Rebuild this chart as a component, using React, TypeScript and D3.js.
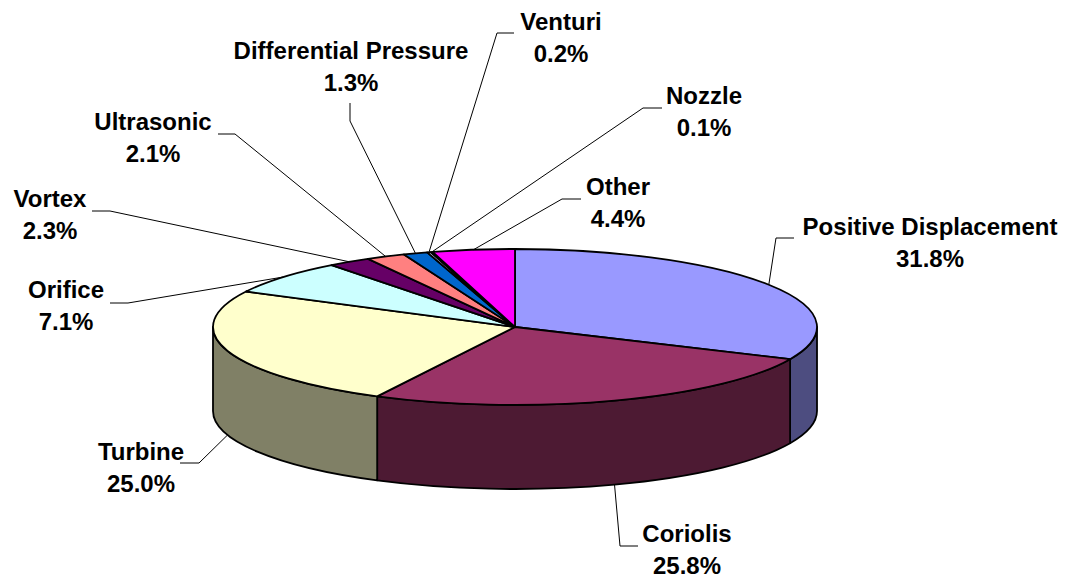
import { useEffect, useRef } from "react";
import * as d3 from "d3";

const categories = [
  "Positive Displacement",
  "Coriolis",
  "Turbine",
  "Orifice",
  "Vortex",
  "Ultrasonic",
  "Differential Pressure",
  "Venturi",
  "Nozzle",
  "Other",
];
const shares = [31.8, 25.8, 25.0, 7.1, 2.3, 2.1, 1.3, 0.2, 0.1, 4.4];
const topColors = ["#9999FF", "#993366", "#FFFFCC", "#CCFFFF", "#660066", "#FF8080", "#0066CC", "#CCCCFF", "#000080", "#FF00FF"];

// label layout: text centre x, first baseline y, then the elbow of the leader (label end, bend)
const labelLayout: { x: number; y: number; a: [number, number]; b: [number, number]; bottom?: boolean }[] = [
  { x: 930, y: 235, a: [794, 238], b: [776, 238] },
  { x: 687, y: 542, a: [638, 546], b: [620, 546], bottom: true },
  { x: 141, y: 460, a: [180, 463], b: [199, 463], bottom: true },
  { x: 66, y: 298, a: [110, 303], b: [128, 303] },
  { x: 50, y: 207, a: [92, 211], b: [110, 211] },
  { x: 153, y: 130, a: [218, 134], b: [235, 134] },
  { x: 351, y: 59, a: [350, 103], b: [350, 121] },
  { x: 561, y: 30, a: [514, 33], b: [497, 33] },
  { x: 704, y: 104, a: [662, 108], b: [643, 108] },
  { x: 618, y: 195, a: [581, 199], b: [562, 199] },
];

const darken = (c: string) => {
  const col = d3.rgb(c);
  return d3.rgb(col.r * 0.5, col.g * 0.5, col.b * 0.5).formatHex();
};

const App = () => {
  const svgRef = useRef<SVGSVGElement>(null);

  useEffect(() => {
    if (!svgRef.current) return;
    const svg = d3.select(svgRef.current);
    svg.selectAll("*").remove();

    const width = 1068;
    const height = 578;
    const cx = 515;
    const cy = 327;
    const rx = 302;
    const ry = 78;
    const depth = 84;

    svg.attr("width", width).attr("height", height);

    const data = categories.map((c, i) => ({ name: c, value: shares[i], color: topColors[i], i }));
    const arcs = d3.pie<typeof data[0]>().value((d) => d.value).sort(null)(data);

    const pt = (a: number, dy = 0): [number, number] => [cx + rx * Math.sin(a), cy - ry * Math.cos(a) + dy];

    // side walls (front half only)
    const sides = svg.append("g");
    arcs.forEach((d) => {
      const s = Math.max(d.startAngle, Math.PI / 2);
      const e = Math.min(d.endAngle, (3 * Math.PI) / 2);
      if (e <= s) return;
      const p0 = pt(s);
      const p1 = pt(e);
      const q1 = pt(e, depth);
      const q0 = pt(s, depth);
      const path =
        `M${p0[0]},${p0[1]} A${rx},${ry} 0 0 1 ${p1[0]},${p1[1]} ` +
        `L${q1[0]},${q1[1]} A${rx},${ry} 0 0 0 ${q0[0]},${q0[1]} Z`;
      sides
        .append("path")
        .attr("d", path)
        .attr("fill", darken(d.data.color))
        .attr("stroke", "#000")
        .attr("stroke-width", 1.8)
        .attr("stroke-linejoin", "round");
    });

    // top faces
    const tops = svg.append("g");
    arcs.forEach((d) => {
      const p0 = pt(d.startAngle);
      const p1 = pt(d.endAngle);
      const large = d.endAngle - d.startAngle > Math.PI ? 1 : 0;
      tops
        .append("path")
        .attr("d", `M${cx},${cy} L${p0[0]},${p0[1]} A${rx},${ry} 0 ${large} 1 ${p1[0]},${p1[1]} Z`)
        .attr("fill", d.data.color)
        .attr("stroke", "#000")
        .attr("stroke-width", 1.8)
        .attr("stroke-linejoin", "round");
    });

    // leader lines and labels
    const labels = svg.append("g");
    arcs.forEach((d, i) => {
      const lay = labelLayout[i];
      const mid = (d.startAngle + d.endAngle) / 2;
      const edge = pt(mid, lay.bottom ? depth : 0);
      labels
        .append("polyline")
        .attr("points", `${lay.a[0]},${lay.a[1]} ${lay.b[0]},${lay.b[1]} ${edge[0]},${edge[1]}`)
        .attr("fill", "none")
        .attr("stroke", "#000")
        .attr("stroke-width", 1);

      const t = labels
        .append("text")
        .attr("text-anchor", "middle")
        .attr("font-family", "Liberation Sans, Arial, sans-serif")
        .attr("font-weight", "bold")
        .attr("font-size", 24)
        .attr("fill", "#000");
      t.append("tspan").attr("x", lay.x).attr("y", lay.y).text(d.data.name);
      t.append("tspan").attr("x", lay.x).attr("y", lay.y + 32).text(`${d.data.value.toFixed(1)}%`);
    });
  }, []);

  return <svg ref={svgRef} style={{ position: "absolute", left: 0, top: 0, background: "#fff" }} />;
};

export default App;
